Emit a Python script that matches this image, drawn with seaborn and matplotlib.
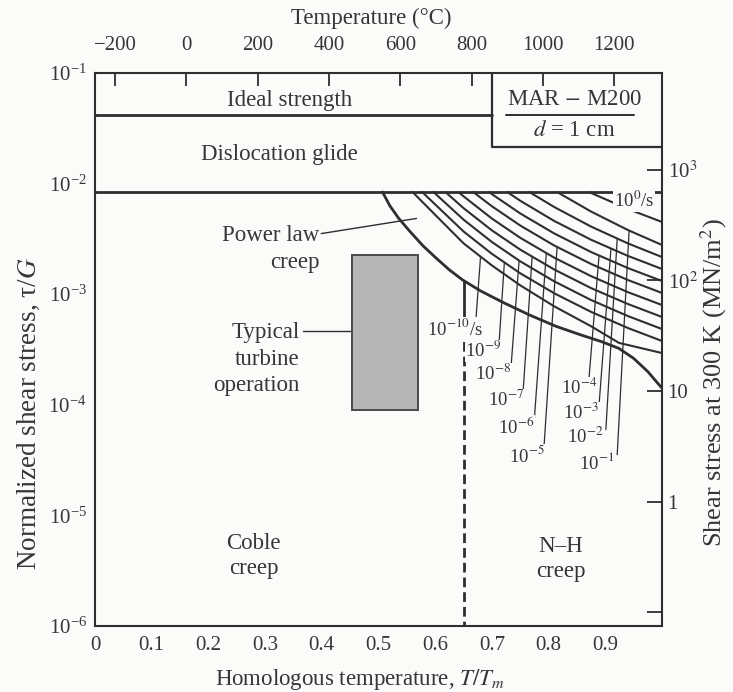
import numpy as np
import pandas as pd
import matplotlib
matplotlib.use("Agg")
import matplotlib.pyplot as plt
from matplotlib.patches import Rectangle
from matplotlib.ticker import FixedLocator, FixedFormatter, NullFormatter
import seaborn as sns

# ---------------- data (x = T/Tm, y = tau/G) ----------------
IDEAL_STRENGTH = 4.17e-2          # ideal strength / dislocation glide boundary
GLIDE_LIMIT = 8.4e-3              # dislocation glide / creep boundary
BOX_LEFT = 0.70                   # material box: left edge (T/Tm)
BOX_BOTTOM = 2.14e-2              # material box: bottom edge (tau/G)

# power-law creep / diffusional creep boundary
boundary_T = [0.507, 0.520, 0.535, 0.555, 0.578, 0.602, 0.625, 0.648, 0.680,
              0.718, 0.765, 0.813, 0.855, 0.894, 0.924, 0.950, 0.975, 1.0]
boundary_logtau = [-2.076, -2.200, -2.310, -2.430, -2.560, -2.675, -2.780, -2.870, -2.970,
                   -3.070, -3.185, -3.290, -3.365, -3.430, -3.490, -3.580, -3.700, -3.850]

# Coble / Nabarro-Herring boundary
COBLE_NH_T = 0.651
COBLE_NH_LOGTAU = -2.88
COBLE_NH_SOLID_END = -3.16

# constant strain-rate contours in the power-law creep field
rate_exp = [-10, -9, -8, -7, -6, -5, -4, -3, -2, -1, 0]
contour_T = [
    [0.560, 0.65, 0.70, 0.75, 0.81, 0.875, 0.924, 1.0],
    [0.577, 0.65, 0.70, 0.75, 0.81, 0.875, 0.94, 1.0],
    [0.597, 0.65, 0.70, 0.75, 0.81, 0.875, 0.94, 1.0],
    [0.618, 0.65, 0.70, 0.75, 0.81, 0.875, 0.94, 1.0],
    [0.641, 0.65, 0.70, 0.75, 0.81, 0.875, 0.94, 1.0],
    [0.667, 0.70, 0.75, 0.81, 0.875, 0.94, 1.0],
    [0.695, 0.70, 0.75, 0.81, 0.875, 0.94, 1.0],
    [0.727, 0.75, 0.81, 0.875, 0.94, 1.0],
    [0.766, 0.81, 0.875, 0.94, 1.0],
    [0.815, 0.875, 0.94, 1.0],
    [0.871, 0.94, 1.0],
]
contour_logtau = [
    [-2.076, -2.540, -2.740, -2.920, -3.110, -3.290, -3.440, -3.532],
    [-2.076, -2.433, -2.635, -2.811, -2.992, -3.160, -3.306, -3.423],
    [-2.076, -2.326, -2.528, -2.703, -2.884, -3.053, -3.198, -3.315],
    [-2.076, -2.222, -2.423, -2.597, -2.777, -2.945, -3.089, -3.206],
    [-2.076, -2.115, -2.316, -2.490, -2.670, -2.837, -2.982, -3.098],
    [-2.076, -2.205, -2.379, -2.560, -2.727, -2.872, -2.989],
    [-2.076, -2.095, -2.270, -2.451, -2.619, -2.764, -2.881],
    [-2.076, -2.155, -2.338, -2.508, -2.654, -2.772],
    [-2.076, -2.212, -2.389, -2.541, -2.664],
    [-2.076, -2.253, -2.420, -2.555],
    [-2.076, -2.230, -2.347],
]

# strain-rate labels: text position and leader line (bottom point, top x)
rate_label_T = [0.634, 0.685, 0.702, 0.725, 0.743, 0.761, 0.854, 0.857, 0.864, 0.884, 0.951]
rate_label_logtau = [-3.306, -3.514, -3.722, -3.957, -4.201, -4.454,
                     -3.848, -4.074, -4.291, -4.526, -2.157]
leader_bottom_T = [0.672, 0.713, 0.734, 0.755, 0.775, 0.792, 0.871, 0.889, 0.901, 0.921]
leader_bottom_logtau = [-3.215, -3.414, -3.640, -3.884, -4.119, -4.372,
                        -3.774, -3.999, -4.225, -4.451]
leader_top_T = [0.680, 0.722, 0.748, 0.771, 0.796, 0.815, 0.889, 0.910, 0.921, 0.942]

# typical turbine operating window
turbine_T = (0.454, 0.569)
turbine_tau = (8.97e-5, 2.26e-3)

# secondary scales
SHEAR_MODULUS = 7.5e4             # MN/m^2 at 300 K
TM_SPAN = 1590.0                  # K per unit T/Tm
C_OFFSET = 256.0                  # deg C at T/Tm = 0 on the upper scale

celsius_ticks = [-200, 0, 200, 400, 600, 800, 1000, 1200]
stress_ticks = [1e3, 1e2, 10, 1, 0.1]
stress_labels = ["10$^3$", "10$^2$", "10", "1", ""]
homologous_ticks = [0, 0.1, 0.2, 0.3, 0.4, 0.5, 0.6, 0.7, 0.8, 0.9]

# ---------------- styling ----------------
sns.set_theme(style="white")
plt.rcParams["font.family"] = ["Liberation Serif", "DejaVu Serif"]
plt.rcParams["mathtext.fontset"] = "stix"
BG = "#fbfbfa"
INK = "#2e2e2e"
TXT = "#363636"
FS = 16.5
TICK_FS = 15

W, H = 733, 692
fig = plt.figure(figsize=(W / 100, H / 100), dpi=100, facecolor=BG)
L, R, T, B = 95, 662, 73, 626
ax = fig.add_axes([L / W, 1 - B / H, (R - L) / W, (B - T) / H], facecolor=BG)
ax.set_yscale("log")
ax.set_xlim(0, 1.0)
ax.set_ylim(1e-6, 1e-1)

# horizontal field boundaries
lines = pd.DataFrame({
    "T": [0, BOX_LEFT, 0, 1.0],
    "tau": [IDEAL_STRENGTH, IDEAL_STRENGTH, GLIDE_LIMIT, GLIDE_LIMIT],
    "seg": ["ideal", "ideal", "glide", "glide"],
})
sns.lineplot(data=lines, x="T", y="tau", units="seg", estimator=None,
             color=INK, lw=2.0, ax=ax, legend=False)

# material box
box = pd.DataFrame({"T": [BOX_LEFT, BOX_LEFT, 1.0],
                    "tau": [1e-1, BOX_BOTTOM, BOX_BOTTOM]})
sns.lineplot(data=box, x="T", y="tau", sort=False, estimator=None,
             color=INK, lw=1.6, ax=ax)

# power-law creep boundary
bnd = pd.DataFrame({"T": boundary_T, "tau": 10 ** np.array(boundary_logtau)})
sns.lineplot(data=bnd, x="T", y="tau", sort=False, estimator=None,
             color=INK, lw=2.0, ax=ax)

# strain-rate contours
rows = []
for e, xs, ys in zip(rate_exp, contour_T, contour_logtau):
    for x, y in zip(xs, ys):
        rows.append({"T": x, "tau": 10 ** y, "rate": e})
cont = pd.DataFrame(rows)
sns.lineplot(data=cont, x="T", y="tau", units="rate", estimator=None, sort=False,
             color=INK, lw=1.5, ax=ax, legend=False)

# leaders from strain-rate labels up to their contours
for i in range(len(leader_top_T)):
    xt = leader_top_T[i]
    yt = np.interp(xt, contour_T[i], contour_logtau[i])
    ax.plot([leader_bottom_T[i], xt], [10 ** leader_bottom_logtau[i], 10 ** yt],
            color=INK, lw=0.9)

# Coble / N-H boundary
ax.plot([COBLE_NH_T, COBLE_NH_T], [10 ** COBLE_NH_LOGTAU, 10 ** COBLE_NH_SOLID_END],
        color=INK, lw=2.0)
ax.plot([COBLE_NH_T, COBLE_NH_T], [10 ** COBLE_NH_SOLID_END, 1e-6],
        color=INK, lw=2.0, dashes=(3.5, 1.8))

# turbine window
ax.add_patch(Rectangle((turbine_T[0], turbine_tau[0]),
                       turbine_T[1] - turbine_T[0], turbine_tau[1] - turbine_tau[0],
                       facecolor="#b7b7b7", edgecolor="#4a4a4a", lw=1.4, zorder=3))

# strain-rate labels
for i, e in enumerate(rate_exp):
    if e in (-10, 0):
        s = "10$^{%d}$/s" % e
    else:
        s = "10$^{%d}$" % e
    ax.text(rate_label_T[i], 10 ** rate_label_logtau[i], s, fontsize=13.5, color=TXT,
            ha="center", va="center", zorder=5,
            bbox=dict(fc=BG, ec="none", pad=0.6))

# field names
ax.text(0.343, 0.057, "Ideal strength", fontsize=FS, color=TXT, ha="center", va="center")
ax.text(0.326, 1.815e-2, "Dislocation glide", fontsize=FS, color=TXT, ha="center", va="center")
ax.text(0.845, 0.058, "MAR $-$ M200", fontsize=FS, color=TXT, ha="center", va="center")
ax.plot([0.725, 0.950], [0.0417, 0.0417], color=INK, lw=1.4)
ax.text(0.845, 0.0305, "$d$ = 1 cm", fontsize=FS, color=TXT, ha="center", va="center")

ax.text(0.396, 10 ** -2.47, "Power law", fontsize=FS, color=TXT, ha="right", va="center")
ax.text(0.396, 10 ** -2.71, "creep", fontsize=FS, color=TXT, ha="right", va="center")
ax.plot([0.399, 0.567], [10 ** -2.452, 10 ** -2.315], color=INK, lw=1.0)

ax.text(0.361, 10 ** -3.35, "Typical", fontsize=FS, color=TXT, ha="right", va="center")
ax.text(0.361, 10 ** -3.59, "turbine", fontsize=FS, color=TXT, ha="right", va="center")
ax.text(0.361, 10 ** -3.83, "operation", fontsize=FS, color=TXT, ha="right", va="center")
ax.plot([0.366, 0.454], [10 ** -3.335, 10 ** -3.335], color=INK, lw=1.0)

ax.text(0.280, 10 ** -5.25, "Coble", fontsize=FS, color=TXT, ha="center", va="center")
ax.text(0.280, 10 ** -5.48, "creep", fontsize=FS, color=TXT, ha="center", va="center")
ax.text(0.822, 10 ** -5.28, "N–H", fontsize=FS, color=TXT, ha="center", va="center")
ax.text(0.822, 10 ** -5.51, "creep", fontsize=FS, color=TXT, ha="center", va="center")

# axes, ticks
for sp in ax.spines.values():
    sp.set_color(INK)
    sp.set_linewidth(1.5)
ax.set_xlabel("")
ax.set_ylabel("")
ax.xaxis.set_major_locator(FixedLocator(homologous_ticks))
ax.xaxis.set_major_formatter(FixedFormatter(["0"] + ["%.1f" % v for v in homologous_ticks[1:]]))
ax.yaxis.set_major_locator(FixedLocator([1e-6, 1e-5, 1e-4, 1e-3, 1e-2, 1e-1]))
ax.yaxis.set_minor_locator(FixedLocator([10 ** (-5.5), 10 ** (-4.5), 10 ** (-3.5),
                                         10 ** (-2.5), 10 ** (-1.5)]))
ax.yaxis.set_minor_formatter(NullFormatter())
ax.tick_params(axis="both", which="both", direction="in", length=11, width=1.3,
               color=INK, labelcolor=TXT, labelsize=TICK_FS)
ax.tick_params(axis="x", pad=7)
ax.tick_params(axis="y", pad=6)

top = ax.secondary_xaxis("top", functions=(lambda x: x * TM_SPAN - C_OFFSET,
                                           lambda c: (c + C_OFFSET) / TM_SPAN))
top.set_xticks(celsius_ticks)
top.set_xticklabels([("−%d" % -c) if c < 0 else "%d" % c for c in celsius_ticks])
top.tick_params(direction="in", length=9, width=1.3, color=INK, labelcolor=TXT,
                labelsize=TICK_FS, pad=13)
top.spines["top"].set_visible(False)

right = ax.secondary_yaxis("right", functions=(lambda t: t * SHEAR_MODULUS,
                                               lambda s: s / SHEAR_MODULUS))
right.set_yticks(stress_ticks)
right.set_yticklabels(stress_labels)
right.yaxis.set_minor_locator(FixedLocator([]))
right.tick_params(direction="in", length=11, width=1.3, color=INK, labelcolor=TXT,
                  labelsize=TICK_FS, pad=4)
right.spines["right"].set_visible(False)

# axis titles
fig.text(371 / W, 1 - 18 / H, "Temperature (°C)", fontsize=FS, color=TXT,
         ha="center", va="center")
fig.text(360 / W, 1 - 680 / H, "Homologous temperature, $T/T_m$", fontsize=FS,
         color=TXT, ha="center", va="center")
fig.text(29 / W, 1 - 414 / H, "Normalized shear stress, τ/$G$", fontsize=19.5,
         color=TXT, ha="center", va="center", rotation=90)
fig.text(714 / W, 1 - 383 / H, "Shear stress at 300 K (MN/m$^2$)", fontsize=19,
         color=TXT, ha="center", va="center", rotation=90)

fig.savefig("out.png", dpi=100, facecolor=BG)
